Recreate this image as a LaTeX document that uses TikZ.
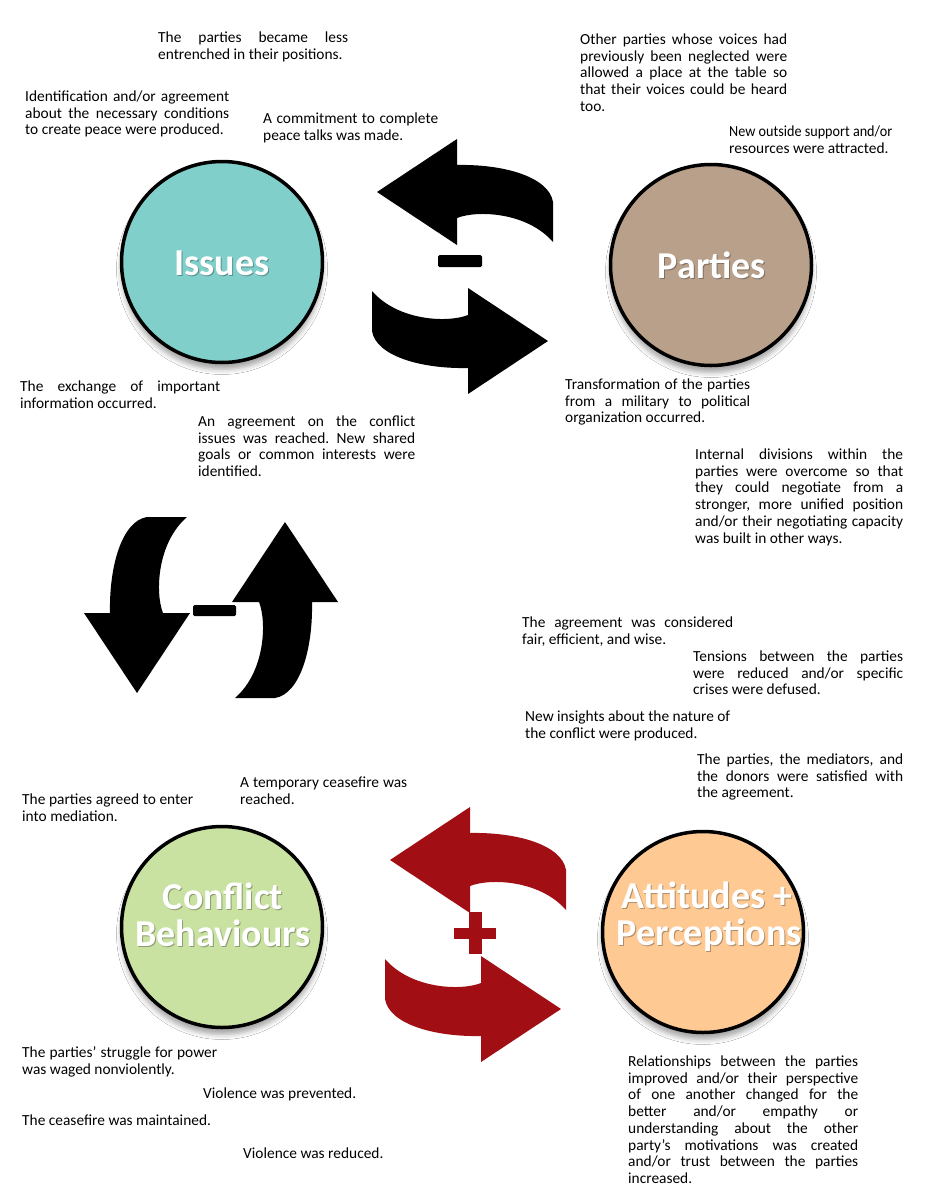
\documentclass[tikz,border=0pt]{standalone}
\usepackage{fontspec}
\setmainfont{Carlito}
\frenchspacing
\usetikzlibrary{shadows.blur}
\definecolor{issuesc}{HTML}{80CFCB}
\definecolor{partiesc}{HTML}{B9A08A}
\definecolor{conflictc}{HTML}{C9E1A1}
\definecolor{attitudesc}{HTML}{FEC992}
\definecolor{arrowred}{HTML}{A10E14}
\newcommand\jl[1]{\makebox[\linewidth][s]{#1}}
\tikzset{
 bigarrow/.pic={\path[pic actions] (0,0) -- (80,-53) -- (80,-27) .. controls (127,-28) and (172,-15) .. (176,10) -- (176,50) .. controls (150,20) and (100,18) .. (80,26) -- (80,53) -- cycle;},
 hub/.style={circle, draw=black, line width=3.5pt, minimum size=201pt, inner sep=0pt,
   blur shadow={shadow xshift=0pt, shadow yshift=-7pt, shadow blur radius=5pt, shadow opacity=35}},
 hublabel/.style={text=white, font=\fontsize{38}{37}\selectfont\bfseries, inner sep=0pt, anchor=base},
 hubshade/.style={text=black, opacity=0.3, font=\fontsize{38}{37}\selectfont\bfseries, inner sep=0pt, anchor=base},
 note/.style={anchor=base west, inner sep=0pt, font=\fontsize{15.4}{16.7}\selectfont},
}
\begin{document}
\begin{tikzpicture}[x=1pt,y=-1pt]
\fill[white] (0,0) rectangle (927,1200);
\useasboundingbox (0,0) rectangle (927,1200);

% hubs
\node[hub, fill=issuesc] (issues) at (222,262) {};
\node[hub, fill=partiesc] (parties) at (711,265) {};
\node[hub, fill=conflictc] (conflict) at (222,927) {};
\node[hub, fill=attitudesc] (attitudes) at (703,932) {};

\node[hubshade] (issuesS) at (223,276.5) {Issues};
\node[hublabel] (issuesL) at (222,275) {Issues};
\node[hubshade] (partiesS) at (713,279.5) {Parties};
\node[hublabel] (partiesL) at (712,278) {Parties};
\node[hubshade] (conflictS1) at (224,910.5) {Conflict};
\node[hublabel] (conflictL1) at (223,909) {Conflict};
\node[hubshade] (conflictS2) at (224,947.5) {Behaviours};
\node[hublabel] (conflictL2) at (223,946) {Behaviours};
\node[hubshade] (attS1) at (708,909.5) {Attitudes +};
\node[hublabel] (attL1) at (707,908) {Attitudes +};
\node[hubshade] (attS2) at (710,946.5) {Perceptions};
\node[hublabel] (attL2) at (709,945) {Perceptions};

% arrows
\pic[fill=black] at (377,192) {bigarrow};
\pic[fill=black, rotate=180] at (548,341) {bigarrow};
\fill[black, rounded corners=1.5pt] (438,255) rectangle (482,267);

\pic[fill=black, rotate=90] at (137,693) {bigarrow};
\pic[fill=black, rotate=-90] at (285,522) {bigarrow};
\fill[black, rounded corners=1.5pt] (193,605) rectangle (236,616);

\pic[fill=arrowred] at (390,860) {bigarrow};
\pic[fill=arrowred, rotate=180] at (561,1009) {bigarrow};
\fill[arrowred] (454,927.5) rectangle (496,938.5);
\fill[arrowred] (468.5,912) rectangle (481.5,954);

% notes
\node[note] (n1) at (158,42.5) {\parbox[t]{190pt}{\raggedright\jl{The parties became less}\\entrenched in their positions.}};
\node[note] (n2) at (25,101.5) {\parbox[t]{204pt}{\raggedright\jl{Identification and/or agreement}\\\jl{about the necessary conditions}\\to create peace were produced.}};
\node[note] (n3) at (263,123.5) {\parbox[t]{175pt}{\raggedright\jl{A commitment to complete}\\peace talks was made.}};
\node[note] (n4) at (580,44.5) {\parbox[t]{207pt}{\raggedright\jl{Other parties whose voices had}\\\jl{previously been neglected were}\\\jl{allowed a place at the table so}\\\jl{that their voices could be heard}\\too.}};
\node[note] (n5) at (729,136.5) {\parbox[t]{162pt}{\raggedright\scalebox{0.92}[1]{New outside support and/or}\\resources were attracted.}};
\node[note] (n6) at (20,391.5) {\parbox[t]{200pt}{\raggedright\jl{The exchange of important}\\information occurred.}};
\node[note] (n7) at (198,426.5) {\parbox[t]{217pt}{\raggedright\jl{An agreement on the conflict}\\\jl{issues was reached. New shared}\\\jl{goals or common interests were}\\identified.}};
\node[note] (n8) at (565,389.5) {\parbox[t]{185pt}{\raggedright\jl{Transformation of the parties}\\\jl{from a military to political}\\organization occurred.}};
\node[note] (n9) at (695,459.5) {\parbox[t]{208pt}{\raggedright\jl{Internal divisions within the}\\\jl{parties were overcome so that}\\\jl{they could negotiate from a}\\\jl{stronger, more unified position}\\\jl{and/or their negotiating capacity}\\was built in other ways.}};
\node[note] (n10) at (522,627.5) {\parbox[t]{211pt}{\raggedright\jl{The agreement was considered}\\fair, efficient, and wise.}};
\node[note] (n11) at (693,661.5) {\parbox[t]{210pt}{\raggedright\jl{Tensions between the parties}\\\jl{were reduced and/or specific}\\crises were defused.}};
\node[note] (n12) at (525,721.5) {\parbox[t]{205pt}{\raggedright\jl{New insights about the nature of}\\the conflict were produced.}};
\node[note] (n13) at (697,764.5) {\parbox[t]{206pt}{\raggedright\jl{The parties, the mediators, and}\\\jl{the donors were satisfied with}\\the agreement.}};
\node[note] (n14) at (22,804.5) {\parbox[t]{171pt}{\raggedright\jl{The parties agreed to enter}\\into mediation.}};
\node[note] (n15) at (240,787.5) {\parbox[t]{167pt}{\raggedright\jl{A temporary ceasefire was}\\reached.}};
\node[note] (n16) at (22,1057.5) {\parbox[t]{195pt}{\raggedright\jl{The parties’ struggle for power}\\was waged nonviolently.}};
\node[note] (n17) at (203,1098.5) {Violence was prevented.};
\node[note] (n18) at (22,1125.5) {The ceasefire was maintained.};
\node[note] (n19) at (243,1158.5) {Violence was reduced.};
\node[note] (n20) at (628,1066.5) {\parbox[t]{230pt}{\raggedright\jl{Relationships between the parties}\\\jl{improved and/or their perspective}\\\jl{of one another changed for the}\\\jl{better and/or empathy or}\\\jl{understanding about the other}\\\jl{party’s motivations was created}\\\jl{and/or trust between the parties}\\increased.}};
\end{tikzpicture}
\end{document}
